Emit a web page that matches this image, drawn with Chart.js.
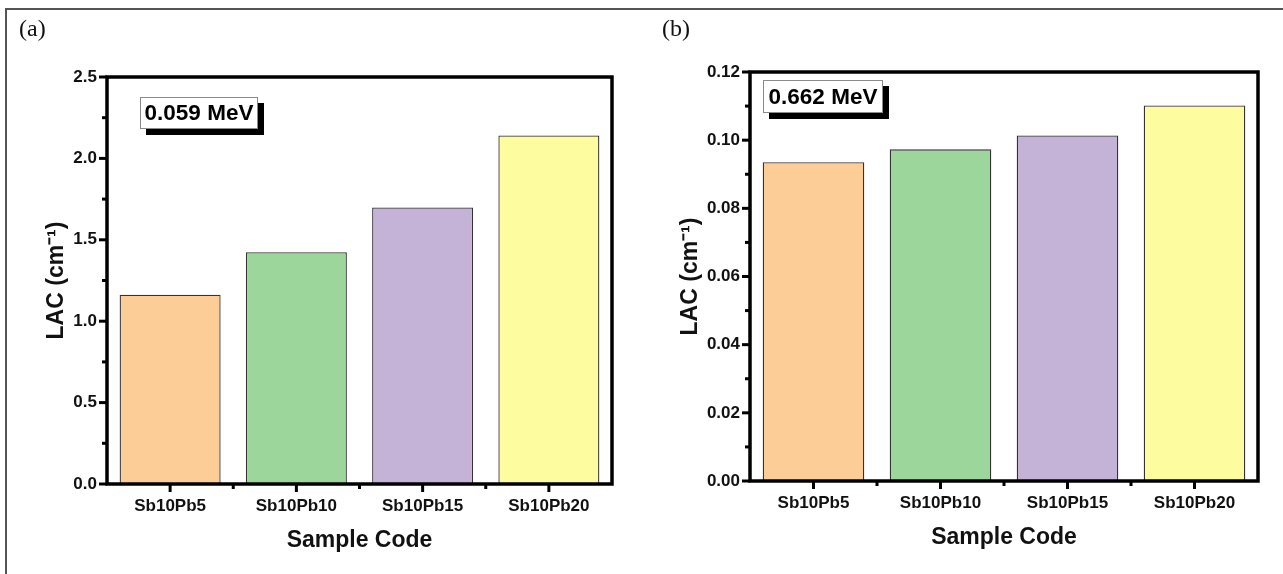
<!DOCTYPE html>
<html>
<head>
<meta charset="utf-8">
<script src="https://cdn.jsdelivr.net/npm/chart.js@4.4.1/dist/chart.umd.min.js"></script>
<style>
  html, body { margin: 0; padding: 0; background: #fff; }
  #page { position: relative; width: 1283px; height: 574px; overflow: hidden; }
  .frame-top { position: absolute; left: 6px; top: 8px; width: 1277px; height: 2px; background: #555; }
  .frame-left { position: absolute; left: 5px; top: 8px; width: 2px; height: 566px; background: #555; }
  .panel-tag { position: absolute; top: 15px; font: 24px 'Liberation Serif', 'Times New Roman', serif; color: #111; }
  .wrap { position: absolute; top: 0; height: 574px; }
  .energy {
    position: absolute; background: #fff; border: 1px solid #8a8a8a;
    box-shadow: 6px 6px 0 #000; box-sizing: border-box;
    font: bold 22.5px 'Liberation Sans', Arial, sans-serif; color: #000;
    display: flex; align-items: center; justify-content: center;
  }
</style>
</head>
<body>
<div id="page">
  <div class="frame-top"></div>
  <div class="frame-left"></div>

  <div class="wrap" style="left:0; width:640px;"><canvas id="chart-a"></canvas></div>
  <div class="wrap" style="left:640px; width:643px;"><canvas id="chart-b"></canvas></div>

  <div class="panel-tag" style="left:19px;">(a)</div>
  <div class="panel-tag" style="left:662px;">(b)</div>

  <div class="energy" style="left:140px; top:97px; width:118px; height:32px;">0.059 MeV</div>
  <div class="energy" style="left:763px; top:80px; width:120px; height:33px;">0.662 MeV</div>
</div>

<script>
// ── Data ──────────────────────────────────────
const samples = ['Sb10Pb5', 'Sb10Pb10', 'Sb10Pb15', 'Sb10Pb20'];
const lacLow = [1.163, 1.424, 1.699, 2.141];      // 0.059 MeV
const lacHigh = [0.0935, 0.0973, 0.1014, 0.1102]; // 0.662 MeV
const barColors = ['#fccd96', '#9dd69a', '#c4b3d6', '#fdfd9f'];

const FONT = "'Liberation Sans', Arial, sans-serif";

// ── Frame, major + minor ticks ────────────────
const framePlugin = {
  id: 'frame',
  afterDraw(chart) {
    const { ctx, chartArea: a, scales: { x, y } } = chart;
    ctx.save();
    ctx.strokeStyle = '#000';
    ctx.lineWidth = 3;
    const yt = y.ticks;
    yt.forEach((t, i) => {
      const py = y.getPixelForValue(t.value);
      ctx.beginPath(); ctx.moveTo(a.left - 8, py); ctx.lineTo(a.left, py); ctx.stroke();
      if (i < yt.length - 1) {
        const pm = y.getPixelForValue((t.value + yt[i + 1].value) / 2);
        ctx.beginPath(); ctx.moveTo(a.left - 5, pm); ctx.lineTo(a.left, pm); ctx.stroke();
      }
    });
    samples.forEach((s, i) => {
      const px = x.getPixelForValue(i);
      ctx.beginPath(); ctx.moveTo(px, a.bottom); ctx.lineTo(px, a.bottom + 8); ctx.stroke();
      if (i > 0) {
        const pm = (x.getPixelForValue(i - 1) + px) / 2;
        ctx.beginPath(); ctx.moveTo(pm, a.bottom); ctx.lineTo(pm, a.bottom + 5); ctx.stroke();
      }
    });
    ctx.lineWidth = 3.5;
    ctx.strokeRect(a.left, a.top, a.right - a.left, a.bottom - a.top);
    ctx.restore();
  }
};

function makeChart(id, values, o) {
  const W = o.W, H = 574;
  return new Chart(document.getElementById(id).getContext('2d'), {
    type: 'bar',
    data: {
      labels: samples,
      datasets: [{
        data: values,
        backgroundColor: barColors,
        borderColor: '#333',
        borderWidth: 1.3,
        categoryPercentage: 0.8,
        barPercentage: 1.0
      }]
    },
    options: {
      responsive: true, maintainAspectRatio: false, animation: false,
      layout: { padding: { left: o.padL, top: o.top, right: W - o.right, bottom: 0 } },
      plugins: { legend: { display: false }, tooltip: { enabled: false } },
      scales: {
        x: {
          offset: true,
          grid: { offset: false, drawOnChartArea: false, drawTicks: true, tickLength: 7, tickWidth: 0, tickColor: 'rgba(0,0,0,0)' },
          border: { display: false },
          ticks: { color: '#111', padding: 5, font: { family: FONT, size: 17, weight: 'bold' } },
          title: { display: true, text: 'Sample Code', color: '#111',
                   font: { family: FONT, size: 23, weight: 'bold' }, padding: { top: 4, bottom: o.xTitlePad } },
          afterFit: s => { s.height = H - o.bottom; }
        },
        y: {
          min: 0, max: o.max,
          grid: { drawOnChartArea: false, drawTicks: true, tickLength: 7, tickWidth: 0, tickColor: 'rgba(0,0,0,0)' },
          border: { display: false },
          ticks: { stepSize: o.step, color: '#111', padding: 3,
                   font: { family: FONT, size: 17, weight: 'bold' },
                   callback: v => Number(v).toFixed(o.dec) },
          title: { display: true, text: 'LAC (cm⁻¹)', color: '#111',
                   font: { family: FONT, size: 23, weight: 'bold' }, padding: { top: 4, bottom: 4 } },
          afterFit: s => { s.width = o.left - o.padL; }
        }
      }
    },
    plugins: [framePlugin]
  });
}

makeChart('chart-a', lacLow, { W: 640, padL: 39, left: 107, right: 612, top: 77, bottom: 484, max: 2.5, step: 0.5, dec: 1, xTitlePad: 20 });
makeChart('chart-b', lacHigh, { W: 643, padL: 33, left: 110, right: 618, top: 72, bottom: 481, max: 0.12, step: 0.02, dec: 2, xTitlePad: 23 });
</script>
</body>
</html>
